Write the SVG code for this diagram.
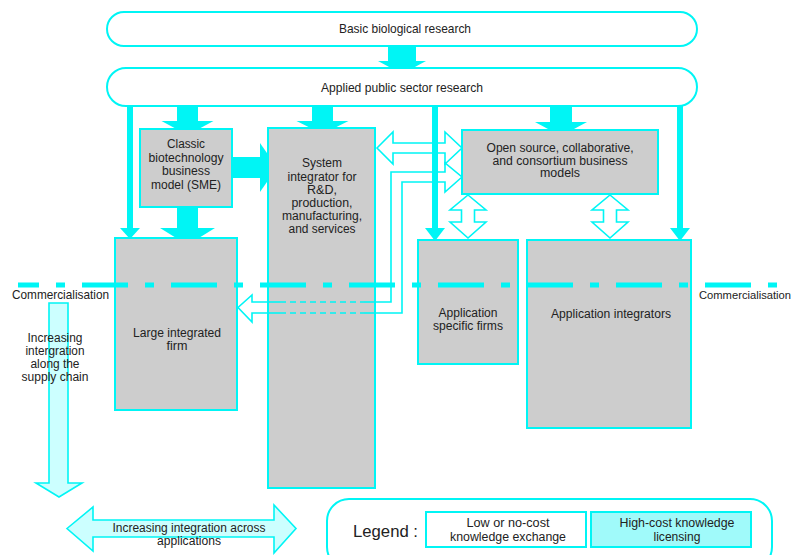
<svg xmlns="http://www.w3.org/2000/svg" width="798" height="555" viewBox="0 0 798 555">
<style>
text{font-family:"Liberation Sans",Arial,sans-serif;font-size:12px;fill:#222;text-anchor:middle;}
.lt{text-anchor:start;}
.bar{fill:#00f5f5;}
.box{fill:#cdcdcd;stroke:#00f5f5;stroke-width:2;}
.rnd{fill:#fff;stroke:#00f5f5;stroke-width:2;}
.hol{fill:#fff;stroke:#00f5f5;stroke-width:1.6;stroke-linejoin:miter;}
.lit{fill:#ccffff;stroke:#00f5f5;stroke-width:1.6;}
.dash{stroke:#00f5f5;stroke-width:1.6;fill:none;}
</style>

<g id="connectors">
  <!-- basic -> applied -->
  <rect class="bar" x="388" y="44" width="28" height="18"/>
  <polygon class="bar" points="378,61 426,61 402,74"/>
  <!-- hollow double arrow system <-> open source -->
  <polygon class="hol" points="377,148 393,132 393,143 445,143 445,132 462,148 445,164 445,153 393,153 393,164"/>
  <!-- Z arrow open source <-> large integrated firm -->
  <polygon class="hol" points="462,177 445,192 445,182 402,182 402,313 252,313 252,322 238,307.5 252,295 252,302 391,302 391,172 445,172 445,163"/>
  <!-- vertical double arrows -->
  <polygon class="hol" points="468,195 486,210 474.5,210 474.5,222 486,222 468,238 450,222 461.5,222 461.5,210 450,210"/>
  <polygon class="hol" points="610,195 628,210 616.5,210 616.5,222 628,222 610,238 592,222 603.5,222 603.5,210 592,210"/>
  <!-- thin arrows from applied research -->
  <rect class="bar" x="127" y="100" width="6" height="129"/>
  <polygon class="bar" points="120,228 140,228 130,239"/>
  <rect class="bar" x="432" y="100" width="6" height="129"/>
  <polygon class="bar" points="425,228 445,228 435,241"/>
  <rect class="bar" x="677" y="100" width="6" height="129"/>
  <polygon class="bar" points="670,228 690,228 680,241"/>
  <!-- thick arrows -->
  <rect class="bar" x="177" y="100" width="21" height="22"/>
  <polygon class="bar" points="161.5,121 213.5,121 187.5,135"/>
  <rect class="bar" x="312" y="100" width="21" height="22"/>
  <polygon class="bar" points="296.5,121 348.5,121 322.5,134"/>
  <rect class="bar" x="550" y="100" width="22" height="23"/>
  <polygon class="bar" points="535,122 587,122 561,136"/>
  <rect class="bar" x="177" y="200" width="21" height="29"/>
  <polygon class="bar" points="160,228 215,228 187.5,245"/>
  <rect class="bar" x="225" y="157" width="36" height="21"/>
  <polygon class="bar" points="260,143 260,192 277,167.5"/>
  <!-- supply chain arrow -->
  <polygon class="lit" points="49,303 68,303 68,483 82,483 59,497 36,483 49,483"/>
  <!-- across applications arrow -->
  <polygon class="lit" points="67,528.5 93,507 93,520 274,520 274,505 296,528.5 274,553 274,537 93,537 93,551"/>
</g>

<g id="basic-research">
  <rect class="rnd" x="107" y="12" width="590" height="34" rx="17"/>
  <text x="405" y="33" style="font-size:13px" textLength="132" lengthAdjust="spacingAndGlyphs">Basic biological research</text>
</g>
<g id="applied-research">
  <rect class="rnd" x="107" y="68" width="590" height="38" rx="19"/>
  <text x="402" y="92" style="font-size:13px" textLength="162" lengthAdjust="spacingAndGlyphs">Applied public sector research</text>
</g>
<g id="classic-sme">
  <rect class="box" x="140" y="129" width="92" height="78"/>
  <text x="186" y="148" textLength="38" lengthAdjust="spacingAndGlyphs">Classic</text>
  <text x="186" y="161.5" textLength="75" lengthAdjust="spacingAndGlyphs">biotechnology</text>
  <text x="186" y="175" textLength="48" lengthAdjust="spacingAndGlyphs">business</text>
  <text x="186" y="188.5" textLength="70" lengthAdjust="spacingAndGlyphs">model (SME)</text>
</g>
<g id="system-integrator">
  <rect class="box" x="268" y="128" width="107" height="360"/>
  <text x="322" y="167" textLength="40" lengthAdjust="spacingAndGlyphs">System</text>
  <text x="322" y="180.5" textLength="69" lengthAdjust="spacingAndGlyphs">integrator for</text>
  <text x="322" y="194" textLength="30" lengthAdjust="spacingAndGlyphs">R&amp;D,</text>
  <text x="322" y="207" textLength="61" lengthAdjust="spacingAndGlyphs">production,</text>
  <text x="322" y="220" textLength="80" lengthAdjust="spacingAndGlyphs">manufacturing,</text>
  <text x="322" y="233" textLength="67" lengthAdjust="spacingAndGlyphs">and services</text>
</g>
<g id="open-source">
  <rect class="box" x="462" y="130" width="196" height="64"/>
  <text x="560" y="151.5" textLength="147" lengthAdjust="spacingAndGlyphs">Open source, collaborative,</text>
  <text x="560" y="164.5" textLength="135" lengthAdjust="spacingAndGlyphs">and consortium business</text>
  <text x="560" y="177" textLength="40" lengthAdjust="spacingAndGlyphs">models</text>
</g>
<g id="large-firm">
  <rect class="box" x="115" y="238" width="122" height="172"/>
  <text x="177" y="336.5" textLength="88" lengthAdjust="spacingAndGlyphs">Large integrated</text>
  <text x="177" y="350" textLength="21" lengthAdjust="spacingAndGlyphs">firm</text>
</g>
<g id="application-specific">
  <rect class="box" x="418" y="240" width="100" height="124"/>
  <text x="468" y="316.5" textLength="59" lengthAdjust="spacingAndGlyphs">Application</text>
  <text x="468" y="329.5" textLength="70" lengthAdjust="spacingAndGlyphs">specific firms</text>
</g>
<g id="application-integrators">
  <rect class="box" x="527" y="240" width="164" height="188"/>
  <text x="611" y="317.5" textLength="120" lengthAdjust="spacingAndGlyphs">Application integrators</text>
</g>

<g id="overlay">
  <line x1="269" y1="302" x2="280" y2="302" class="dash"/>
  <line x1="269" y1="313" x2="280" y2="313" class="dash"/>
  <line x1="280" y1="302" x2="364" y2="302" class="dash" stroke-dasharray="6 4"/>
  <line x1="280" y1="313" x2="364" y2="313" class="dash" stroke-dasharray="6 4"/>
  <line x1="364" y1="302" x2="376" y2="302" class="dash"/>
  <line x1="364" y1="313" x2="376" y2="313" class="dash"/>
  <line x1="18" y1="285" x2="792" y2="285" stroke="#00f5f5" stroke-width="5" stroke-dasharray="46 17 9 17" stroke-dashoffset="25"/>
</g>

<g id="labels">
  <text class="lt" x="12" y="299" style="font-size:13px" textLength="97" lengthAdjust="spacingAndGlyphs">Commercialisation</text>
  <text class="lt" x="699" y="299" style="font-size:11.5px" textLength="92" lengthAdjust="spacingAndGlyphs">Commercialisation</text>
  <text x="55" y="341.5" textLength="55" lengthAdjust="spacingAndGlyphs">Increasing</text>
  <text x="55" y="355" textLength="59" lengthAdjust="spacingAndGlyphs">intergration</text>
  <text x="55" y="368" textLength="49" lengthAdjust="spacingAndGlyphs">along the</text>
  <text x="55" y="381" textLength="67" lengthAdjust="spacingAndGlyphs">supply chain</text>
  <text x="189" y="532" textLength="153" lengthAdjust="spacingAndGlyphs">Increasing integration across</text>
  <text x="189" y="544.5" textLength="64" lengthAdjust="spacingAndGlyphs">applications</text>
</g>

<g id="legend">
  <rect class="rnd" x="327" y="499" width="445" height="70" rx="22"/>
  <text class="lt" x="353" y="537" style="font-size:16px" textLength="65" lengthAdjust="spacingAndGlyphs">Legend :</text>
  <rect x="426" y="512" width="160" height="35" fill="#fff" stroke="#00f5f5" stroke-width="2"/>
  <text x="508" y="527" textLength="83" lengthAdjust="spacingAndGlyphs">Low or no-cost</text>
  <text x="508" y="540.5" textLength="116" lengthAdjust="spacingAndGlyphs">knowledge exchange</text>
  <rect x="591" y="512" width="160" height="35" fill="#a0fafa" stroke="#00f5f5" stroke-width="2"/>
  <text x="677" y="527" textLength="115" lengthAdjust="spacingAndGlyphs">High-cost knowledge</text>
  <text x="677" y="540.5" textLength="47" lengthAdjust="spacingAndGlyphs">licensing</text>
</g>
</svg>
